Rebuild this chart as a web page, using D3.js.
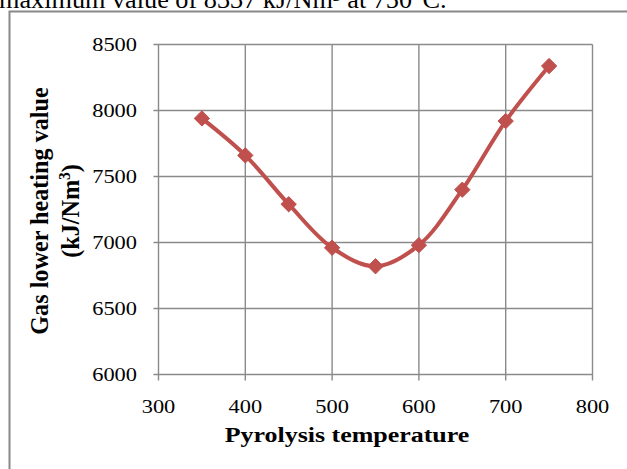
<!DOCTYPE html>
<html>
<head>
<meta charset="utf-8">
<script src="https://cdn.jsdelivr.net/npm/d3@7"></script>
<style>
  body { margin: 0; background: #fff; }
  svg { display: block; }
  text { font-family: "Liberation Serif", "Times New Roman", serif; fill: #000; }
</style>
</head>
<body>
<svg id="chart" width="627" height="469"></svg>
<script>
'use strict';

// temperatures (deg C) and lower heating value (kJ/Nm3)
const temperatures = [350, 400, 450, 500, 550, 600, 650, 700, 750];
const heatingValues = [7940, 7660, 7290, 6960, 6820, 6980, 7400, 7920, 8337];
const xTicks = [300, 400, 500, 600, 700, 800];
const yTicks = [6000, 6500, 7000, 7500, 8000, 8500];

const svg = d3.select('#chart');
const lineColor = '#c0504d';
const gridColor = '#8a8a8a';
// the source picture is a bit wider than tall
const stretch = 'scale(1.18,1)';

// text above the chart (cut off by the crop)
svg.append('text')
  .attr('transform', 'translate(-1,8) scale(1.05,1)')
  .style('font-size', '25px')
  .text('maximum value of 8337 kJ/Nm\u00b3 at 750\u00b0C.');

// chart frame
svg.append('path')
  .attr('d', 'M9.5,480V11.5H640')
  .attr('fill', 'none')
  .attr('stroke', '#888')
  .attr('stroke-width', 2);

const x = d3.scaleLinear().domain([300, 800]).range([158.5, 592.5]);
const y = d3.scaleLinear().domain([6000, 8500]).range([374.5, 44.5]);

// grid lines
svg.append('g')
  .selectAll('line')
  .data(yTicks)
  .join('line')
  .attr('x1', x(300) - 5)
  .attr('x2', x(800))
  .attr('y1', d => y(d))
  .attr('y2', d => y(d))
  .attr('stroke', gridColor)
  .attr('stroke-width', 1.4);

svg.append('g')
  .selectAll('line')
  .data(xTicks)
  .join('line')
  .attr('x1', d => x(d))
  .attr('x2', d => x(d))
  .attr('y1', y(8500))
  .attr('y2', y(6000) + 6)
  .attr('stroke', gridColor)
  .attr('stroke-width', 1.4);

// tick labels
svg.append('g')
  .selectAll('text')
  .data(yTicks)
  .join('text')
  .attr('transform', d => 'translate(137,' + (y(d) + 6.5) + ') ' + stretch)
  .attr('text-anchor', 'end')
  .style('font-size', '19px')
  .text(d => d);

svg.append('g')
  .selectAll('text')
  .data(xTicks)
  .join('text')
  .attr('transform', d => 'translate(' + x(d) + ',413) ' + stretch)
  .attr('text-anchor', 'middle')
  .style('font-size', '19px')
  .text(d => d);

// axis titles
svg.append('text')
  .attr('transform', 'translate(347,442) ' + stretch)
  .attr('text-anchor', 'middle')
  .style('font-size', '22px')
  .style('font-weight', 'bold')
  .text('Pyrolysis temperature');

const yTitle = svg.append('text')
  .attr('transform', 'translate(48,211) rotate(-90) scale(1.1,1.12)')
  .attr('text-anchor', 'middle')
  .style('font-size', '22px')
  .style('font-weight', 'bold');
yTitle.append('tspan')
  .attr('x', 0)
  .attr('y', 0)
  .text('Gas lower heating value');
const unit = yTitle.append('tspan')
  .attr('x', 0)
  .attr('y', 28);
unit.append('tspan').text('(kJ/Nm');
unit.append('tspan')
  .attr('dy', -8)
  .style('font-size', '14px')
  .text('3');
unit.append('tspan')
  .attr('dy', 8)
  .text(')');

// smoothed series line
const points = temperatures.map((t, i) => [t, heatingValues[i]]);
const line = d3.line()
  .x(d => x(d[0]))
  .y(d => y(d[1]))
  .curve(d3.curveCatmullRom.alpha(0.5));

svg.append('path')
  .datum(points)
  .attr('d', line)
  .attr('fill', 'none')
  .attr('stroke', lineColor)
  .attr('stroke-width', 4);

// diamond markers
const diamond = d3.symbol().type(d3.symbolDiamond2).size(150);
svg.append('g')
  .selectAll('path')
  .data(points)
  .join('path')
  .attr('transform', d => 'translate(' + x(d[0]) + ',' + y(d[1]) + ')')
  .attr('d', diamond)
  .attr('fill', lineColor)
  .attr('stroke', lineColor)
  .attr('stroke-width', 1);
</script>
</body>
</html>
